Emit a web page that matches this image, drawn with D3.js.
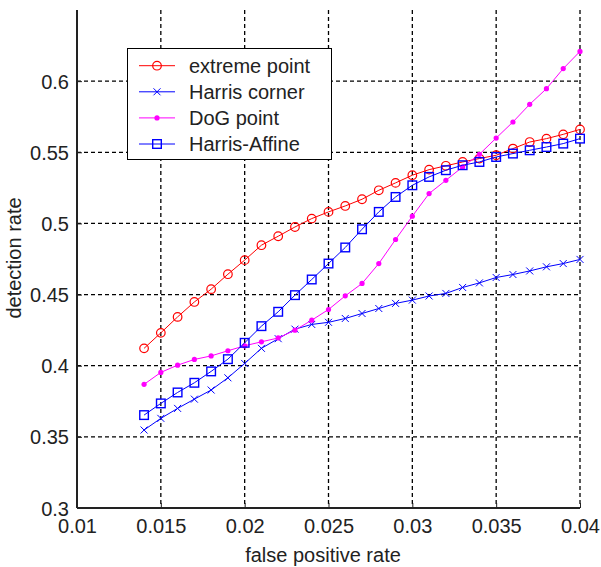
<!DOCTYPE html>
<html>
<head>
<meta charset="utf-8">
<script src="https://cdn.jsdelivr.net/npm/d3@7"></script>
<style>
  html, body { margin: 0; padding: 0; background: #fff; }
  svg { display: block; font-family: "Liberation Sans", Arial, Helvetica, sans-serif; }
</style>
</head>
<body>
<svg id="chart" width="601" height="567"></svg>
<script>
// ---- data ----
const fpr = [0.014,0.015,0.016,0.017,0.018,0.019,0.020,0.021,0.022,0.023,0.024,0.025,0.026,0.027,
             0.028,0.029,0.030,0.031,0.032,0.033,0.034,0.035,0.036,0.037,0.038,0.039,0.040];
const extremePoint = [0.4122,0.4231,0.4343,0.4448,0.4538,0.4643,0.4742,0.4847,0.4910,0.4975,0.5034,0.5081,0.5123,0.5170,
                      0.5233,0.5285,0.5339,0.5378,0.5405,0.5432,0.5456,0.5479,0.5526,0.5572,0.5596,0.5626,0.5661];
const harrisCorner = [0.3548,0.3630,0.3700,0.3765,0.3829,0.3915,0.4016,0.4122,0.4190,0.4257,0.4290,0.4305,0.4332,0.4367,
                      0.4402,0.4438,0.4461,0.4490,0.4508,0.4550,0.4582,0.4620,0.4641,0.4666,0.4695,0.4718,0.4747];
const dogPoint     = [0.3869,0.3953,0.4004,0.4044,0.4069,0.4105,0.4140,0.4168,0.4195,0.4250,0.4320,0.4395,0.4491,0.4578,
                      0.4718,0.4887,0.5051,0.5210,0.5303,0.5397,0.5486,0.5600,0.5713,0.5837,0.5947,0.6088,0.6209];
const harrisAffine = [0.3653,0.3735,0.3812,0.3880,0.3960,0.4046,0.4161,0.4278,0.4379,0.4496,0.4606,0.4718,0.4831,0.4959,
                      0.5081,0.5186,0.5268,0.5327,0.5374,0.5409,0.5432,0.5467,0.5491,0.5514,0.5537,0.5561,0.5596];
const seriesNames = ["extreme point", "Harris corner", "DoG point", "Harris-Affine"];
const xTicks = [0.01,0.015,0.02,0.025,0.03,0.035,0.04];
const xTickLabels = ["0.01","0.015","0.02","0.025","0.03","0.035","0.04"];
const yTicks = [0.3,0.35,0.4,0.45,0.5,0.55,0.6];
const yTickLabels = ["0.3","0.35","0.4","0.45","0.5","0.55","0.6"];

// ---- layout ----
const svg = d3.select("#chart");
const L = 77, R = 580, T = 10, B = 508;
const x = d3.scaleLinear().domain([0.01, 0.04]).range([L, R]);
const y = d3.scaleLinear().domain([0.3, 0.65]).range([B, T]);

// grid
const grid = svg.append("g");
grid.selectAll("line.v").data(xTicks).enter().append("line")
  .attr("x1", d => x(d)).attr("x2", d => x(d)).attr("y1", T).attr("y2", B)
  .attr("stroke", "#000").attr("stroke-width", 1.3).attr("stroke-dasharray", "4,3");
grid.selectAll("line.h").data(yTicks).enter().append("line")
  .attr("x1", L).attr("x2", R).attr("y1", d => y(d)).attr("y2", d => y(d))
  .attr("stroke", "#000").attr("stroke-width", 1.3).attr("stroke-dasharray", "4,3");

// axes
const xAxis = d3.axisBottom(x).tickValues(xTicks).tickFormat((d, i) => xTickLabels[i]).tickSizeInner(-5).tickSizeOuter(0).tickPadding(13);
const yAxis = d3.axisLeft(y).tickValues(yTicks).tickFormat((d, i) => yTickLabels[i]).tickSizeInner(-5).tickSizeOuter(0).tickPadding(13);
const gx = svg.append("g").attr("transform", `translate(0,${B})`).call(xAxis);
const gy = svg.append("g").attr("transform", `translate(${L},0)`).call(yAxis);
[gx, gy].forEach(g => {
  g.select(".domain").attr("stroke", "#222").attr("stroke-width", 2);
  g.selectAll(".tick line").attr("stroke", "#222").attr("stroke-width", 1);
  g.selectAll(".tick text").attr("fill", "#222").style("font-size", "20px")
   .style("font-family", "'Liberation Sans', Arial, sans-serif");
});
gx.select(".domain").attr("d", `M${L},0H${R}`);
gy.select(".domain").attr("d", `M0,${B}V${T}`);
gy.selectAll(".tick text").attr("x", -8).attr("dy", "0.35em");
gx.selectAll(".tick text").attr("y", 11).attr("dy", "0.71em");

// axis labels
svg.append("text").attr("x", 323).attr("y", 562).attr("text-anchor", "middle")
  .style("font-size", "20px").attr("fill", "#222").text("false positive rate");
svg.append("text").attr("transform", "translate(21,258) rotate(-90)").attr("text-anchor", "middle")
  .style("font-size", "20px").attr("fill", "#222").text("detection rate");

// series
const series = [
  { name: seriesNames[0], vals: extremePoint, color: "#ff0000", marker: "circle" },
  { name: seriesNames[1], vals: harrisCorner, color: "#0000ff", marker: "x" },
  { name: seriesNames[2], vals: dogPoint,     color: "#ff00ff", marker: "dot" },
  { name: seriesNames[3], vals: harrisAffine, color: "#0000ff", marker: "square" }
];
const line = d3.line().x(d => x(d[0])).y(d => y(d[1]));

function drawMarker(g, cx, cy, type, color) {
  if (type === "circle") {
    g.append("circle").attr("cx", cx).attr("cy", cy).attr("r", 4.3)
      .attr("fill", "none").attr("stroke", color).attr("stroke-width", 1.2);
  } else if (type === "square") {
    g.append("rect").attr("x", cx - 4.3).attr("y", cy - 4.3).attr("width", 8.6).attr("height", 8.6)
      .attr("fill", "none").attr("stroke", color).attr("stroke-width", 1.4);
  } else if (type === "x") {
    const s = 3.5;
    g.append("path").attr("d", `M${cx-s},${cy-s}L${cx+s},${cy+s}M${cx-s},${cy+s}L${cx+s},${cy-s}`)
      .attr("stroke", color).attr("stroke-width", 1);
  } else {
    g.append("circle").attr("cx", cx).attr("cy", cy).attr("r", 2.6).attr("fill", color);
  }
}

series.forEach(s => {
  const pts = fpr.map((f, i) => [f, s.vals[i]]);
  const g = svg.append("g");
  g.append("path").datum(pts).attr("d", line).attr("fill", "none")
    .attr("stroke", s.color).attr("stroke-width", 1);
  pts.forEach(p => drawMarker(g, x(p[0]), y(p[1]), s.marker, s.color));
});

// legend
const lg = svg.append("g");
lg.append("rect").attr("x", 127.5).attr("y", 48.5).attr("width", 204).attr("height", 111)
  .attr("fill", "#fff").attr("stroke", "#000").attr("stroke-width", 1);
series.forEach((s, i) => {
  const cy = 65.7 + i * 26.1;
  lg.append("line").attr("x1", 139).attr("x2", 175).attr("y1", cy).attr("y2", cy)
    .attr("stroke", s.color).attr("stroke-width", 1);
  drawMarker(lg, 157, cy, s.marker, s.color);
  lg.append("text").attr("x", 189).attr("y", cy).attr("dy", "0.35em")
    .style("font-size", "20px").attr("fill", "#222").text(s.name);
});
</script>
</body>
</html>
